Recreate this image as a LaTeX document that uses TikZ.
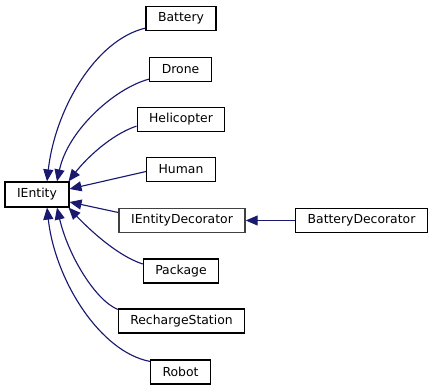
\documentclass[tikz,border=0pt]{standalone}
\usepackage{fontspec}
\setmainfont{DejaVu Sans}
\usetikzlibrary{arrows.meta,calc}
\definecolor{edgeblue}{RGB}{25,25,112}
\definecolor{undocgray}{RGB}{64,64,64}

\begin{document}
\begin{tikzpicture}[x=0.75pt, y=0.75pt,
    cls/.style={draw=black, line width=0.9pt, fill=white, inner xsep=9pt, inner ysep=0pt,
        minimum height=18pt, font=\fontsize{9.3pt}{11pt}\selectfont},
    inh/.style={-{Triangle[length=9pt, width=7.5pt]}, line width=0.85pt, edgeblue}]

    \useasboundingbox (0,0) rectangle (435,392);

    % Base class
    \node[cls, minimum height=18.75pt] (ientity) at (37,197.5) {IEntity};

    % Derived classes
    \node[cls] (battery)    at (181,373.5)  {Battery};
    \node[cls] (drone)      at (180.5,322.5) {Drone};
    \node[cls] (helicopter) at (181,272.5)  {Helicopter};
    \node[cls] (human)      at (181,222.5)  {Human};
    \node[cls, draw=undocgray, line width=1.3pt] (decorator) at (182,171.5) {IEntityDecorator};
    \node[cls] (package)    at (181,121)    {Package};
    \node[cls] (station)    at (181.5,71)   {RechargeStation};
    \node[cls] (robot)      at (180.5,20)   {Robot};

    % Second level
    \node[cls] (batdeco) at (361.5,171.5) {BatteryDecorator};

    % Inheritance edges
    \draw[inh] ($(battery.south west)+(0,3)$) .. controls (95,352) and (55,282) .. ($(ientity.north)+(10,0)$);
    \draw[inh] ($(drone.south west)+(0,3)$) .. controls (115,304) and (68,262) .. ($(ientity.north)+(20,0)$);
    \draw[inh] ($(helicopter.south west)+(0,6)$) .. controls (110,257) and (85,232) .. ($(ientity.north east)+(-1,0)$);
    \draw[inh] ($(human.west)+(0,-2)$) -- ($(ientity.east)+(0,5.5)$);
    \draw[inh] ($(decorator.west)+(0,8)$) -- ($(ientity.east)+(0,-7.5)$);
    \draw[inh] ($(package.west)+(0,7)$) .. controls (115,137) and (85,167) .. ($(ientity.south east)+(-1,0)$);
    \draw[inh] ($(station.north west)+(0,-1)$) .. controls (95,92) and (68,137) .. ($(ientity.south)+(20,0)$);
    \draw[inh] ($(robot.north west)+(0,-2)$) .. controls (100,40) and (55,112) .. ($(ientity.south)+(10,0)$);
    \draw[inh] (batdeco) -- (decorator);
\end{tikzpicture}
\end{document}
